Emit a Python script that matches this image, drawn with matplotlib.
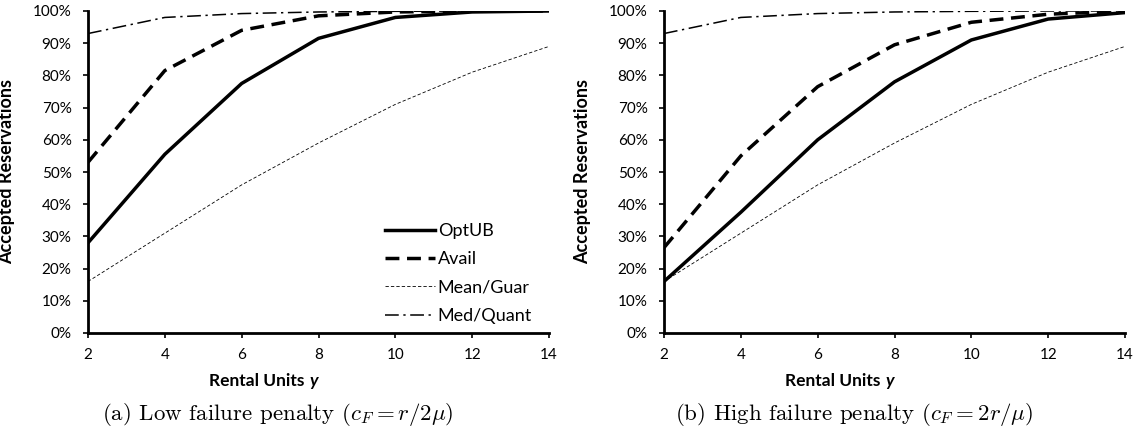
import numpy as np
import matplotlib
matplotlib.use('Agg')
import matplotlib.pyplot as plt
from matplotlib.ticker import PercentFormatter

plt.rcParams['font.family'] = ['Lato', 'DejaVu Sans']
plt.rcParams['mathtext.fontset'] = 'cm'

units = [2, 4, 6, 8, 10, 12, 14]

# (a) low failure penalty
low_optub = [28.0, 55.5, 77.5, 91.5, 98.0, 99.7, 100.0]
low_avail = [53.0, 81.5, 94.0, 98.5, 99.7, 100.0, 100.0]
# (b) high failure penalty
high_optub = [16.0, 37.5, 60.0, 78.0, 91.0, 97.5, 99.5]
high_avail = [26.5, 55.0, 76.5, 89.5, 96.5, 99.0, 100.0]
# same in both panels
mean_guar = [16.0, 31.0, 46.0, 59.0, 71.0, 81.0, 89.0]
med_quant = [93.0, 98.0, 99.2, 99.7, 99.9, 100.0, 100.0]

captions = [r'(a) Low failure penalty ($c_F = r/2\mu$)',
            r'(b) High failure penalty ($c_F = 2r/\mu$)']

W, H = 1140, 430
fig = plt.figure(figsize=(W / 100, H / 100), dpi=100)


def px(x, y):
    return x / W, 1 - y / H


ax1 = fig.add_axes([88 / W, 1 - 333 / H, 461 / W, 322 / H])
ax2 = fig.add_axes([664 / W, 1 - 333 / H, 461 / W, 322 / H])


def draw_panel(ax, optub, avail):
    ax.plot(units, optub, color='black', lw=2.5, ls='-', label='OptUB')
    ax.plot(units, avail, color='black', lw=2.5, ls=(0, (4, 2.2)), label='Avail')
    ax.plot(units, mean_guar, color='black', lw=0.6, ls=(0, (4, 2.5)), label='Mean/Guar')
    ax.plot(units, med_quant, color='black', lw=1.1, ls=(0, (9, 3, 1.5, 3)), label='Med/Quant')
    ax.set_xlim(2, 14)
    ax.set_ylim(0, 100)
    ax.set_xticks(units)
    ax.set_yticks(np.arange(0, 101, 10))
    ax.yaxis.set_major_formatter(PercentFormatter(decimals=0))
    for s in ['top', 'right']:
        ax.spines[s].set_visible(False)
    for s in ['left', 'bottom']:
        ax.spines[s].set_linewidth(2.0)
    ax.tick_params(direction='out', length=3.8, width=1.2, labelsize=11)
    ax.tick_params(axis='y', pad=8)
    ax.tick_params(axis='x', pad=7)
    ax.set_ylabel('Accepted Reservations', fontsize=13, fontweight='bold')
    ax.yaxis.set_label_coords(-0.158, 0.5)


draw_panel(ax1, low_optub, low_avail)
draw_panel(ax2, high_optub, high_avail)

ax1.legend(loc='center left', bbox_to_anchor=px(385, 273.5), bbox_transform=fig.transFigure,
           frameon=False, fontsize=13, handlelength=2.75, handletextpad=0.17,
           labelspacing=0.68, borderpad=0, borderaxespad=0)

# x labels ("y" in bold italic) and captions
for off, cap in zip([0, 576], captions):
    fig.text(*px(301 + off + 8, 381), 'Rental Units ', ha='right', va='center',
             fontsize=12.5, fontweight='bold')
    fig.text(*px(301 + off + 8, 381), 'y', ha='left', va='center',
             fontsize=12.5, fontweight='bold', style='italic')
    fig.text(*px(278 + off, 414), cap, ha='center', va='center',
             fontsize=16.5, family='cmr10')

fig.savefig('out.png', dpi=100)
